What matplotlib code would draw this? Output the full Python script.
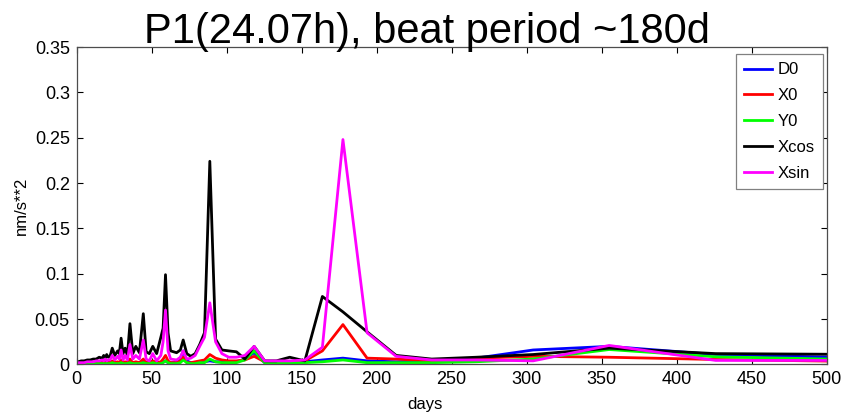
import matplotlib
matplotlib.use("Agg")
import matplotlib.pyplot as plt

days = [1, 3, 5, 7, 9, 11, 13, 15, 17, 18, 19, 20, 21, 22.2,
        23.7, 25.4, 27.3, 28.4, 29.6, 30.9, 32.3,
        33.8, 35.5, 37.4, 39.4, 41.8, 44.4, 46.3, 48.4, 50.7, 53.3, 56.1, 57.6,
        59.2, 60.9, 62.6, 66.6, 69.1, 71, 73.4, 76.1, 79, 82, 85.2, 88.75, 92.6,
        96.8, 101.4, 106.5, 112.1, 118.3, 125.3, 133.1, 142, 152.1, 163.8, 177.5,
        193.6, 213, 236.7, 266.3, 304.3, 355, 426, 532.5]

d0 = [0.001, 0.001, 0.001, 0.002, 0.002, 0.002, 0.002, 0.002, 0.002, 0.002, 0.002,
      0.002, 0.002, 0.002,
      0.003, 0.002, 0.002, 0.002, 0.003, 0.002, 0.002, 0.002, 0.003, 0.002, 0.002,
      0.002, 0.003, 0.002, 0.002, 0.003, 0.002, 0.002, 0.003, 0.004, 0.002, 0.002,
      0.002, 0.006, 0.015, 0.004, 0.002, 0.002, 0.002, 0.003, 0.004, 0.003, 0.003,
      0.003, 0.003, 0.006, 0.013, 0.002, 0.002, 0.002, 0.003, 0.005, 0.007, 0.004,
      0.003, 0.004, 0.007, 0.016, 0.020, 0.011, 0.007]

x0 = [0.001, 0.001, 0.001, 0.001, 0.002, 0.002, 0.002, 0.002, 0.002, 0.003, 0.002,
      0.003, 0.003, 0.002,
      0.004, 0.002, 0.003, 0.002, 0.005, 0.002, 0.003, 0.002, 0.006, 0.002, 0.003,
      0.002, 0.006, 0.002, 0.002, 0.004, 0.002, 0.003, 0.006, 0.010, 0.004, 0.002,
      0.002, 0.004, 0.008, 0.002, 0.002, 0.003, 0.004, 0.005, 0.011, 0.007, 0.005,
      0.004, 0.004, 0.005, 0.009, 0.003, 0.003, 0.003, 0.004, 0.015, 0.044, 0.007,
      0.006, 0.004, 0.007, 0.009, 0.008, 0.0055, 0.003]

y0 = [0.001, 0.001, 0.001, 0.001, 0.001, 0.001, 0.001, 0.001, 0.001, 0.001, 0.001,
      0.001, 0.001, 0.001,
      0.002, 0.001, 0.001, 0.001, 0.002, 0.001, 0.001, 0.001, 0.002, 0.001, 0.001,
      0.001, 0.002, 0.001, 0.001, 0.002, 0.001, 0.001, 0.002, 0.004, 0.002, 0.001,
      0.001, 0.002, 0.005, 0.002, 0.001, 0.001, 0.002, 0.002, 0.006, 0.003, 0.002,
      0.002, 0.002, 0.005, 0.015, 0.002, 0.002, 0.002, 0.002, 0.003, 0.005, 0.002,
      0.002, 0.002, 0.003, 0.006, 0.0165, 0.0085, 0.005]

xcos = [0.003, 0.004, 0.004, 0.005, 0.005, 0.006, 0.006, 0.008, 0.007, 0.010, 0.007,
        0.011, 0.008, 0.009,
        0.018, 0.010, 0.015, 0.012, 0.029, 0.012, 0.018, 0.010, 0.045, 0.012, 0.020,
        0.013, 0.056, 0.014, 0.012, 0.020, 0.012, 0.030, 0.040, 0.099, 0.035, 0.015,
        0.013, 0.016, 0.027, 0.012, 0.009, 0.012, 0.022, 0.035, 0.224, 0.028, 0.016,
        0.015, 0.014, 0.006, 0.020, 0.004, 0.004, 0.008, 0.004, 0.075, 0.058, 0.036,
        0.010, 0.006, 0.008, 0.011, 0.018, 0.012, 0.011]

xsin = [0.002, 0.002, 0.002, 0.003, 0.003, 0.003, 0.004, 0.004, 0.005, 0.004, 0.006,
        0.004, 0.005, 0.005,
        0.010, 0.005, 0.009, 0.006, 0.016, 0.005, 0.010, 0.005, 0.022, 0.006, 0.010,
        0.006, 0.027, 0.006, 0.004, 0.012, 0.004, 0.010, 0.025, 0.060, 0.015, 0.006,
        0.005, 0.008, 0.015, 0.006, 0.007, 0.010, 0.020, 0.030, 0.068, 0.025, 0.012,
        0.008, 0.008, 0.010, 0.020, 0.004, 0.004, 0.004, 0.005, 0.019, 0.248, 0.035,
        0.009, 0.005, 0.005, 0.004, 0.021, 0.0045, 0.0045]

xticks = [0, 50, 100, 150, 200, 250, 300, 350, 400, 450, 500]
yticks = [0, 0.05, 0.1, 0.15, 0.2, 0.25, 0.3, 0.35]
ytick_labels = ["0", "0.05", "0.1", "0.15", "0.2", "0.25", "0.3", "0.35"]

plt.rcParams["font.family"] = ["Liberation Sans", "DejaVu Sans"]

fig = plt.figure(figsize=(8.57, 4.12), dpi=100)
ax = fig.add_axes([0.0895, 0.1153, 0.8751, 0.7706])

ax.plot(days, d0, color="#0000ff", lw=2, label="D0")
ax.plot(days, x0, color="#ff0000", lw=2, label="X0")
ax.plot(days, y0, color="#00ff00", lw=2, label="Y0")
ax.plot(days, xcos, color="#000000", lw=2, label="Xcos")
ax.plot(days, xsin, color="#ff00ff", lw=2, label="Xsin")

ax.set_xlim(0, 500)
ax.set_ylim(0, 0.35)
ax.set_xticks(xticks)
ax.set_yticks(yticks)
ax.set_yticklabels(ytick_labels)
ax.tick_params(direction="in", length=4.5, width=0.8, top=True, right=True,
               labelsize=13, pad=5)
for sp in ax.spines.values():
    sp.set_color("0.3")
    sp.set_linewidth(0.9)

fig.text(0.4977, 0.8956, "P1(24.07h), beat period ~180d", fontsize=30,
         ha="center", va="baseline")
fig.text(0.496, 1 - 397 / 412, "days", fontsize=12, ha="center", va="top")
fig.text(0.0245, 0.5, "nm/s**2", fontsize=12, ha="center", va="center",
         rotation=90)

leg = ax.legend(loc="upper right", bbox_to_anchor=(822.7 / 857, 1 - 54 / 412),
                bbox_transform=fig.transFigure, borderaxespad=0, fontsize=12,
                fancybox=False, framealpha=1, edgecolor="0.5",
                handlelength=1.7, handletextpad=0.3, labelspacing=0.65,
                borderpad=0.5)
leg.get_frame().set_linewidth(0.9)

fig.savefig("out.png", dpi=100)
